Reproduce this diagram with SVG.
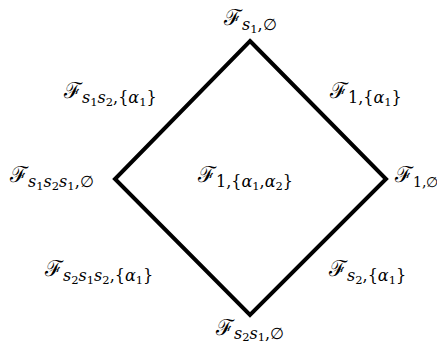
<svg xmlns="http://www.w3.org/2000/svg" width="437" height="343" viewBox="0 0 437 343">
<style>
.t{font-family:"DejaVu Serif","Liberation Serif",serif;font-size:22px;fill:#000}
.s{font-size:16px;font-style:italic}
.u{font-style:normal}
.k{font-style:normal;font-size:11.5px}
.e{fill:none;stroke:#000;stroke-width:4;stroke-linejoin:miter}
</style>
<rect width="437" height="343" fill="#fff"/>
<g id="connectors">
<path class="e" d="M250,41 L386,179 L250,315 L115,179 Z"/>
</g>
<g id="n-top"><text class="t" x="224" y="25">ℱ<tspan class="s" dy="5">s<tspan class="k" dy="3">1</tspan><tspan class="u" dy="-3">,∅</tspan></tspan></text></g>
<g id="n-tl"><text class="t" x="64" y="98">ℱ<tspan class="s" dy="5">s<tspan class="k" dy="3">1</tspan><tspan dy="-3">s</tspan><tspan class="k" dy="3">2</tspan><tspan class="u" dy="-3">,{</tspan>α<tspan class="k" dy="3">1</tspan><tspan class="u" dy="-3">}</tspan></tspan></text></g>
<g id="n-tr"><text class="t" x="330" y="98">ℱ<tspan class="s" dy="5"><tspan class="u">1,{</tspan>α<tspan class="k" dy="3">1</tspan><tspan class="u" dy="-3">}</tspan></tspan></text></g>
<g id="n-left"><text class="t" x="10" y="182">ℱ<tspan class="s" dy="5">s<tspan class="k" dy="3">1</tspan><tspan dy="-3">s</tspan><tspan class="k" dy="3">2</tspan><tspan dy="-3">s</tspan><tspan class="k" dy="3">1</tspan><tspan class="u" dy="-3">,∅</tspan></tspan></text></g>
<g id="n-center"><text class="t" x="198" y="182">ℱ<tspan class="s" dy="5"><tspan class="u">1,{</tspan>α<tspan class="k" dy="3">1</tspan><tspan class="u" dy="-3">,</tspan>α<tspan class="k" dy="3">2</tspan><tspan class="u" dy="-3">}</tspan></tspan></text></g>
<g id="n-right"><text class="t" x="395" y="182">ℱ<tspan class="s" dy="5" style="font-size:14px"><tspan class="u">1,∅</tspan></tspan></text></g>
<g id="n-bl"><text class="t" x="45" y="276">ℱ<tspan class="s" dy="5">s<tspan class="k" dy="3">2</tspan><tspan dy="-3">s</tspan><tspan class="k" dy="3">1</tspan><tspan dy="-3">s</tspan><tspan class="k" dy="3">2</tspan><tspan class="u" dy="-3">,{</tspan>α<tspan class="k" dy="3">1</tspan><tspan class="u" dy="-3">}</tspan></tspan></text></g>
<g id="n-br"><text class="t" x="329" y="276">ℱ<tspan class="s" dy="5">s<tspan class="k" dy="3">2</tspan><tspan class="u" dy="-3">,{</tspan>α<tspan class="k" dy="3">1</tspan><tspan class="u" dy="-3">}</tspan></tspan></text></g>
<g id="n-bottom"><text class="t" x="216" y="335">ℱ<tspan class="s" dy="4">s<tspan class="k" dy="2">2</tspan><tspan dy="-2">s</tspan><tspan class="k" dy="2">1</tspan><tspan class="u" dy="-2">,∅</tspan></tspan></text></g>
</svg>
